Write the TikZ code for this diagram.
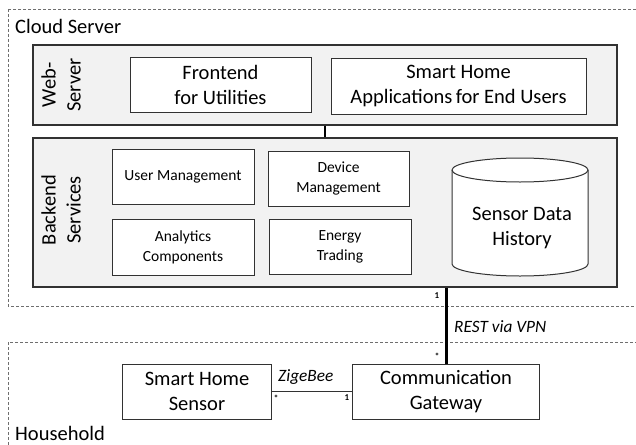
\documentclass[tikz,border=0pt]{standalone}
\usepackage{fontspec}
\setmainfont{Carlito}
\definecolor{panelfill}{RGB}{242,242,242}
\definecolor{boxline}{RGB}{50,50,50}
\definecolor{dashline}{RGB}{110,110,110}
\tikzset{
  bigfont/.style={font=\fontsize{20.5}{25}\selectfont},
  smallfont/.style={font=\fontsize{15.5}{20}\selectfont},
  panel/.style={draw=boxline, line width=1.1pt, fill=panelfill, inner sep=0pt},
  box/.style={draw=boxline, line width=1pt, fill=white, inner sep=0pt, align=center},
  zone/.style={draw=dashline, line width=0.9pt, dash pattern=on 3pt off 2pt},
  mult/.style={font=\bfseries\fontsize{9}{10}\selectfont, inner sep=0pt},
  conlabel/.style={font=\itshape\fontsize{17.3}{20}\selectfont, inner sep=0pt, anchor=west},
}
\begin{document}
\begin{tikzpicture}[x=1pt,y=-1pt]
\useasboundingbox (0,0) rectangle (636,444);
% zones
\draw[zone] (8,9) rectangle (660,306);
\draw[zone] (8,342) rectangle (660,470);
\node[bigfont, anchor=west, inner sep=0pt] (cloudlbl) at (15,26) {Cloud Server};
\node[bigfont, anchor=west, inner sep=0pt] (houselbl) at (15,433) {Household};
% web server panel
\node[panel, minimum width=584pt, minimum height=80pt] (web) at (325,85) {};
\node[bigfont, rotate=90, align=center, inner sep=0pt] (weblbl) at (61,85) {Web-\\Server};
\node[box, bigfont, minimum width=181pt, minimum height=55pt] (fe) at (220.5,84.5) {Frontend\\for Utilities};
\node[box, bigfont, minimum width=255pt, minimum height=56pt] (apps) at (458.5,86) {Smart Home\\Applications\,for End Users};
% backend panel
\node[panel, minimum width=584pt, minimum height=149pt] (backend) at (325,212.5) {};
\node[bigfont, rotate=90, align=center, inner sep=0pt] (belbl) at (61,210) {Backend\\Services};
\node[box, smallfont, minimum width=142pt, minimum height=55pt] (um) at (183,176.5) {User Management};
\node[box, smallfont, minimum width=142pt, minimum height=56pt] (ac) at (183,247) {Analytics\\Components};
\node[box, smallfont, minimum width=141pt, minimum height=55pt] (dm) at (338.5,178.5) {Device\\Management};
\node[box, smallfont, minimum width=142pt, minimum height=55pt] (et) at (340,246.5) {Energy\\Trading};
% cylinder
\draw[draw=boxline, line width=1pt, fill=white]
  (452,170) -- (452,264) .. controls (452,270.6) and (482.4,276) .. (520,276)
  .. controls (557.6,276) and (588,270.6) .. (588,264) -- (588,170)
  .. controls (588,163.4) and (557.6,158) .. (520,158)
  .. controls (482.4,158) and (452,163.4) .. (452,170) -- cycle;
\draw[draw=boxline, line width=1pt]
  (452,170) .. controls (452,176.6) and (482.4,182) .. (520,182)
  .. controls (557.6,182) and (588,176.6) .. (588,170);
\node[bigfont, align=center, inner sep=0pt] (db) at (522,228) {Sensor Data\\History};
% household
\node[box, bigfont, minimum width=149pt, minimum height=55pt] (sensor) at (197,391.5) {Smart Home\\Sensor};
\node[box, bigfont, minimum width=187pt, minimum height=55pt] (gw) at (446,391.5) {Communication\\Gateway};
% connectors
\draw[line width=2pt] (web.south) -- (backend.north);
\draw[line width=3pt] (backend.south -| gw.north) -- (gw.north);
\draw[line width=1pt, draw=boxline] (sensor.east) -- (gw.west);
% labels
\node[mult] (m1) at (437,296) {1};
\node[mult] (m2) at (437,356) {*};
\node[conlabel] (rest) at (454,327) {REST via VPN};
\node[conlabel] (zig) at (278,377) {ZigeBee};
\node[mult] (m3) at (276,398) {*};
\node[mult] (m4) at (347,398) {1};
\end{tikzpicture}
\end{document}
